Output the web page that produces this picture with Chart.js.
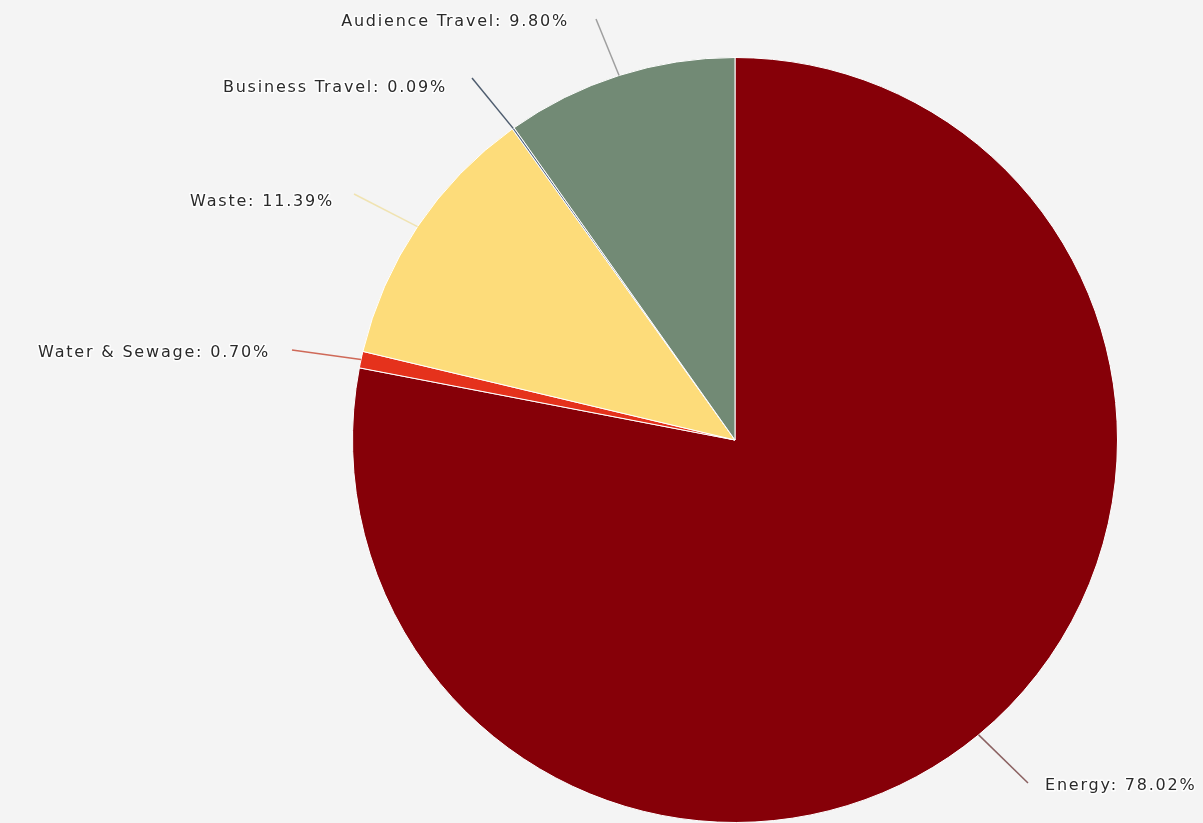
<!DOCTYPE html>
<html>
<head>
<meta charset="utf-8">
<script src="https://cdn.jsdelivr.net/npm/chart.js@4.4.1/dist/chart.umd.min.js"></script>
<style>
  html, body { margin: 0; padding: 0; background: #f4f4f4; overflow: hidden; }
  #wrap { position: relative; width: 1203px; height: 823px; }
</style>
</head>
<body>
<div id="wrap"><canvas id="c" width="1203" height="823"></canvas></div>
<script>
// ---- data ----
const categories = ['Energy', 'Water & Sewage', 'Waste', 'Business Travel', 'Audience Travel'];
const shares = [78.02, 0.70, 11.39, 0.09, 9.80];
const sliceColors = ['#860008', '#e5321c', '#fddc7a', '#5d6e86', '#728a75'];

// ---- label placement (style only) ----
const labelStyle = [
  { x: 1045, y: 786, align: 'left',  lx: 1028, ly: 783, line: 'rgba(120,70,70,0.85)' },
  { x: 270,  y: 353, align: 'right', lx: 292,  ly: 350, line: 'rgba(200,80,60,0.85)' },
  { x: 334,  y: 202, align: 'right', lx: 354,  ly: 194, line: 'rgba(240,225,170,0.9)' },
  { x: 447,  y: 88,  align: 'right', lx: 472,  ly: 78,  line: 'rgba(60,75,95,0.9)' },
  { x: 569,  y: 22,  align: 'right', lx: 596,  ly: 19,  line: 'rgba(150,150,150,0.9)' }
];

const labelPlugin = {
  id: 'pieLabels',
  afterDatasetsDraw(chart) {
    const ctx = chart.ctx;
    const meta = chart.getDatasetMeta(0);
    ctx.save();
    meta.data.forEach((arc, i) => {
      const p = arc.getProps(['x', 'y', 'startAngle', 'endAngle', 'outerRadius'], true);
      const mid = (p.startAngle + p.endAngle) / 2;
      const ex = p.x + Math.cos(mid) * p.outerRadius;
      const ey = p.y + Math.sin(mid) * p.outerRadius;
      const s = labelStyle[i];
      ctx.strokeStyle = s.line;
      ctx.lineWidth = 1.5;
      ctx.beginPath();
      ctx.moveTo(s.lx, s.ly);
      ctx.lineTo(ex, ey);
      ctx.stroke();

      const text = categories[i] + ': ' + shares[i].toFixed(2) + '%';
      ctx.font = '16px "DejaVu Sans", Verdana, sans-serif';
      if ('letterSpacing' in ctx) ctx.letterSpacing = '1.8px';
      ctx.textAlign = s.align;
      ctx.textBaseline = 'middle';
      ctx.lineJoin = 'round';
      ctx.strokeStyle = 'rgba(255,255,255,0.9)';
      ctx.lineWidth = 3;
      ctx.strokeText(text, s.x, s.y);
      ctx.fillStyle = '#2a2a2a';
      ctx.fillText(text, s.x, s.y);
    });
    ctx.restore();
  }
};

new Chart(document.getElementById('c'), {
  type: 'pie',
  data: {
    labels: categories,
    datasets: [{
      data: shares,
      backgroundColor: sliceColors,
      borderColor: '#ffffff',
      borderWidth: 1,
      clip: false
    }]
  },
  options: {
    responsive: false,
    animation: false,
    layout: { padding: { left: 351, right: 84, top: 57, bottom: -2 } },
    plugins: {
      legend: { display: false },
      tooltip: { enabled: false }
    }
  },
  plugins: [labelPlugin]
});
</script>
</body>
</html>
